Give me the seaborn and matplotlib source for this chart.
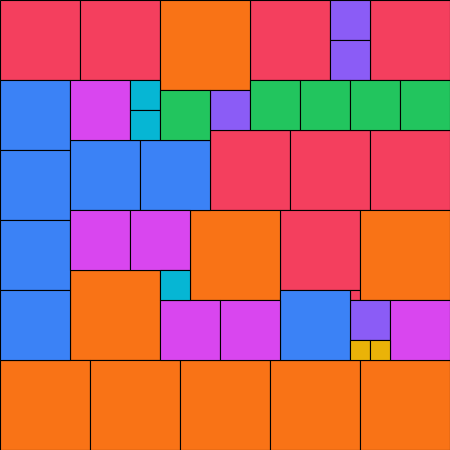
import matplotlib
matplotlib.use("Agg")
import matplotlib.pyplot as plt
import seaborn as sns
import pandas as pd

# Square tiles: category, left, top, side (in layout units, 450 x 450 canvas)
categories = ["red", "red", "red", "red", "red", "red", "red", "red", "red",
              "orange", "orange", "orange", "orange", "orange", "orange", "orange", "orange", "orange",
              "purple", "purple", "purple", "purple",
              "blue", "blue", "blue", "blue", "blue", "blue", "blue",
              "magenta", "magenta", "magenta", "magenta", "magenta", "magenta",
              "cyan", "cyan", "cyan",
              "green", "green", "green", "green", "green",
              "yellow", "yellow"]
left = [0, 80, 250, 370, 210, 290, 370, 280, 350,
        160, 190, 360, 70, 0, 90, 180, 270, 360,
        330, 330, 210, 350,
        0, 0, 0, 0, 70, 140, 280,
        70, 70, 130, 160, 220, 390,
        130, 130, 160,
        160, 250, 300, 350, 400,
        350, 370]
top = [0, 0, 0, 0, 130, 130, 130, 210, 290,
       0, 210, 210, 270, 360, 360, 360, 360, 360,
       0, 40, 90, 300,
       80, 150, 220, 290, 140, 140, 290,
       80, 210, 210, 300, 300, 300,
       80, 110, 270,
       90, 80, 80, 80, 80,
       340, 340]
side = [80, 80, 80, 80, 80, 80, 80, 80, 10,
        90, 90, 90, 90, 90, 90, 90, 90, 90,
        40, 40, 40, 40,
        70, 70, 70, 70, 70, 70, 70,
        60, 60, 60, 60, 60, 60,
        30, 30, 30,
        50, 50, 50, 50, 50,
        20, 20]

palette = {"red": "#F43F5E", "orange": "#F97316", "purple": "#8B5CF6",
           "blue": "#3B82F6", "magenta": "#D946EF", "cyan": "#06B6D4",
           "green": "#22C55E", "yellow": "#EAB308"}

df = pd.DataFrame({"cat": categories, "x": left, "y": top, "s": side})

sns.set_theme(style="white")
fig = plt.figure(figsize=(4.5, 4.5), dpi=100)
ax = fig.add_axes([0, 0, 1, 1])
ax.bar(df["x"], df["s"], width=df["s"], bottom=df["y"], align="edge",
       color=[palette[c] for c in df["cat"]], edgecolor="black", linewidth=0.8)
ax.set_xlim(0, 450)
ax.set_ylim(450, 0)
ax.axis("off")
fig.savefig("out.png", dpi=100)
